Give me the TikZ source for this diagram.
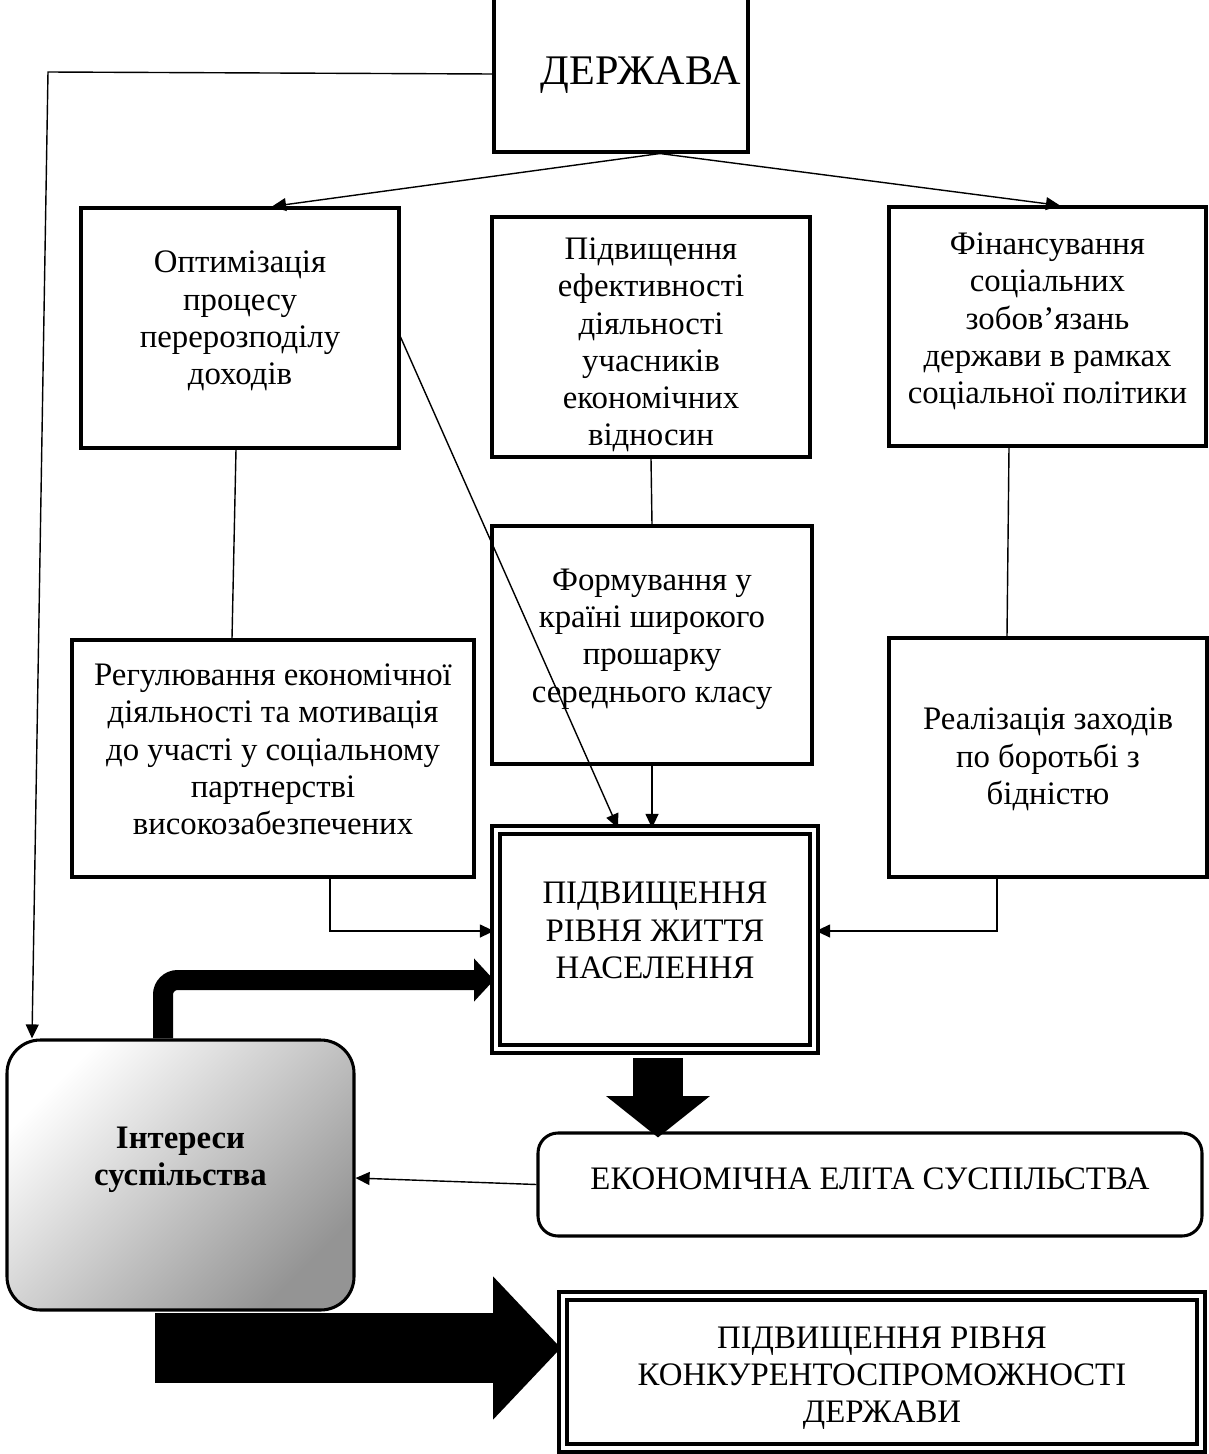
\documentclass[tikz,border=0pt]{standalone}
\usepackage{fontspec}
\setmainfont{Liberation Serif}
\usetikzlibrary{fit, arrows.meta, calc}

\tikzset{
  box/.style={draw, line width=1.3pt, inner sep=0pt},
  dbox/.style={box, double, line width=1.7pt, double distance=1.7pt},
  txt/.style={align=center, font=\fontsize{14}{15.9}\selectfont},
  link/.style={line width=0.6pt, -{Triangle[length=6pt,width=5.5pt]}},
  plain/.style={line width=0.6pt},
}

\begin{document}
\begin{tikzpicture}[x=0.015cm, y=-0.015cm]
    \useasboundingbox (0,0) rectangle (1208,1454);

    % Boxes
    \node[box, fit={(494,-10) (748,152)}, label={[font=\fontsize{18}{20}\selectfont, xshift=0.3cm, yshift=-0.06cm]center:ДЕРЖАВА}] (der) {};
    \node[box, fit={(81,208) (399,448)}, label={[txt, yshift=0.105cm]center:Оптимізація\\процесу\\перерозподілу\\доходів}] (opt) {};
    \node[box, fit={(492,217) (810,457)}, label={[txt, yshift=-0.12cm]center:Підвищення\\ефективності\\діяльності\\учасників\\економічних\\відносин}] (eff) {};
    \node[box, fit={(889,207) (1206,446)}, label={[txt, yshift=0.075cm]center:Фінансування\\соціальних\\зобов’язань\\держави в рамках\\соціальної політики}] (fin) {};
    \node[box, fit={(492,526) (812,764)}, label={[txt, yshift=0.09cm]center:Формування у\\країні широкого\\прошарку\\середнього класу}] (form) {};
    \node[box, fit={(72,640) (474,877)}, label={[txt, yshift=0.135cm]center:Регулювання економічної\\діяльності та мотивація\\до участі у соціальному\\партнерстві\\високозабезпечених}] (reg) {};
    \node[box, fit={(889,638) (1207,877)}, label={[txt, yshift=-0.03cm]center:Реалізація заходів\\по боротьбі з\\бідністю}] (real) {};
    \node[dbox, fit={(496,830) (814,1049)}, label={[txt, yshift=0.135cm]center:ПІДВИЩЕННЯ\\РІВНЯ ЖИТТЯ\\НАСЕЛЕННЯ}] (pop) {};
    \node[box, fit={(7,1040) (354,1310)}, rounded corners=0.5cm, top color=white, middle color=black!12, bottom color=black!42, shading angle=45, label={[txt, font=\bfseries\fontsize{14}{15.9}\selectfont, yshift=0.225cm]center:Інтереси\\суспільства}] (int) {};
    \node[box, fit={(538,1133) (1202,1236)}, rounded corners=0.3cm, label={[txt, yshift=0.09cm]center:ЕКОНОМІЧНА ЕЛІТА СУСПІЛЬСТВА}] (elite) {};
    \node[dbox, fit={(563,1296) (1201,1448)}, label={[txt, yshift=-0.09cm]center:ПІДВИЩЕННЯ РІВНЯ\\КОНКУРЕНТОСПРОМОЖНОСТІ\\ДЕРЖАВИ}] (comp) {};

    % Thin connectors
    \draw[link] (der.south -| 660,0) -- (opt.north -| 272,0);
    \draw[link] (der.south -| 660,0) -- (fin.north -| 1060,0);
    \coordinate (corner) at (48,72);
    \draw[link] (der.west |- 0,74) -- (corner) -- (int.north -| 32,0);
    \draw[link] (opt.east |- 0,337) -- (pop.north -| 618,0);
    \draw[plain] (eff.south) -- (form.north);
    \draw[link] (form.south) -- (form.south |- pop.north);
    \draw[plain] (opt.south -| 236,0) -- (reg.north -| 232,0);
    \draw[plain] (fin.south -| 1009,0) -- (real.north -| 1007,0);
    \draw[link] (reg.south -| 330,0) |- (pop.west |- 0,931);
    \draw[link] (real.south -| 997,0) |- (pop.east |- 0,931);
    \draw[link] (elite.west) -- (int.east |- 0,1178);

    % Block arrows
    \draw[line width=0.3cm, rounded corners=0.22cm, -{Triangle[length=0.3cm,width=0.63cm]}] (int.north -| 163,0) |- (pop.west |- 0,980);
    \draw[line width=0.75cm, -{Triangle[length=0.62cm,width=1.52cm]}] ($(pop.south -| 658,0)+(0,7)$) -- ($(elite.north -| 658,0)+(0,6)$);
    \coordinate (tail) at (155,1348);
    \draw[line width=1.05cm, -{Triangle[length=1.02cm,width=2.09cm]}] (tail) -- (comp.west |- tail);
\end{tikzpicture}
\end{document}
